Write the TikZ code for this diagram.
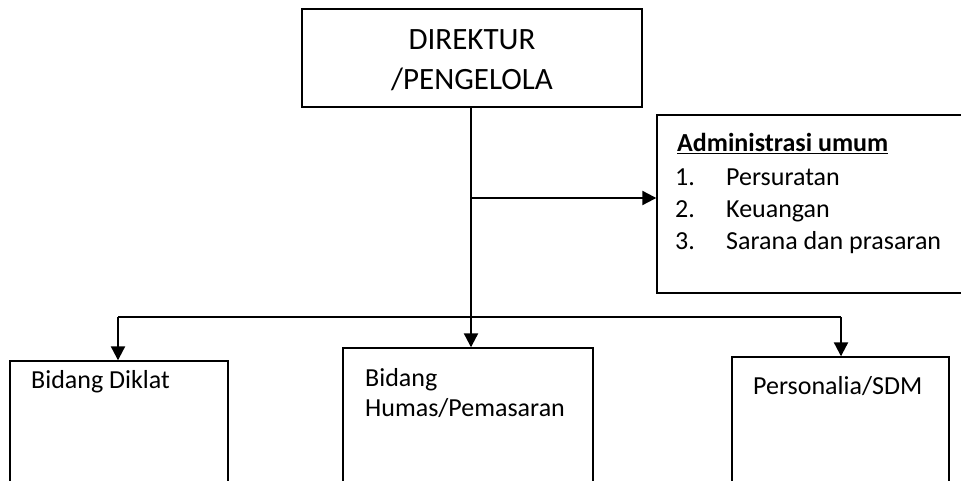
\documentclass[tikz,border=0pt]{standalone}
\usepackage{fontspec}
\setmainfont{Carlito}
\usetikzlibrary{arrows.meta}
\begin{document}
\begin{tikzpicture}[x=1pt,y=-1pt,
  box/.style={draw=black,line width=1.4pt,rectangle,inner sep=0pt},
  conn/.style={line width=2.2pt,draw=black},
  arr/.style={conn,-{Triangle[length=14pt,width=14pt]}},
  txt/.style={anchor=base west,inner sep=0pt,font=\fontsize{26}{31}\selectfont},
  bigtxt/.style={anchor=base,inner sep=0pt,font=\fontsize{31}{40}\selectfont}]
\clip (0,0) rectangle (961,481);
\fill[white] (0,0) rectangle (961,481);
% boxes
\node[box,minimum width=340pt,minimum height=98pt] (dir) at (472,58) {};
\node[box,minimum width=318pt,minimum height=178pt] (adm) at (816,204) {};
\node[box,minimum width=218pt,minimum height=160pt] (dik) at (119,441) {};
\node[box,minimum width=250pt,minimum height=170pt] (hum) at (468,433) {};
\node[box,minimum width=217pt,minimum height=160pt] (per) at (840.5,437) {};
% texts
\node[bigtxt] (t1) at (472,50) {DIREKTUR};
\node[bigtxt] (t2) at (472,90) {/PENGELOLA};
\node[txt] (ah) at (677,152) {\textbf{\underline{Administrasi umum}}};
\node[txt] (a1n) at (675,186) {1.};
\node[txt] (a1) at (726,186) {Persuratan};
\node[txt] (a2n) at (675,218) {2.};
\node[txt] (a2) at (726,218) {Keuangan};
\node[txt] (a3n) at (675,249) {3.};
\node[txt] (a3) at (726,249) {Sarana dan prasaran};
\node[txt] (dt) at (31,388) {Bidang Diklat};
\node[txt] (ht1) at (365,386) {Bidang};
\node[txt] (ht2) at (365,416) {Humas/Pemasaran};
\node[txt] (pt) at (753,394) {Personalia/SDM};
% connectors
\coordinate (spine) at (471,0);
\coordinate (j1) at (471,198);
\coordinate (busl) at (118,317);
\coordinate (busr) at (841,317);
\draw[arr] (dir.south -| spine) -- (hum.north -| spine);
\draw[arr] (j1) -- (j1 -| adm.west);
\draw[conn] (busl) -- (busr);
\draw[arr] (busl) -- (busl |- dik.north);
\draw[arr] (busr) -- (busr |- per.north);
\end{tikzpicture}
\end{document}
